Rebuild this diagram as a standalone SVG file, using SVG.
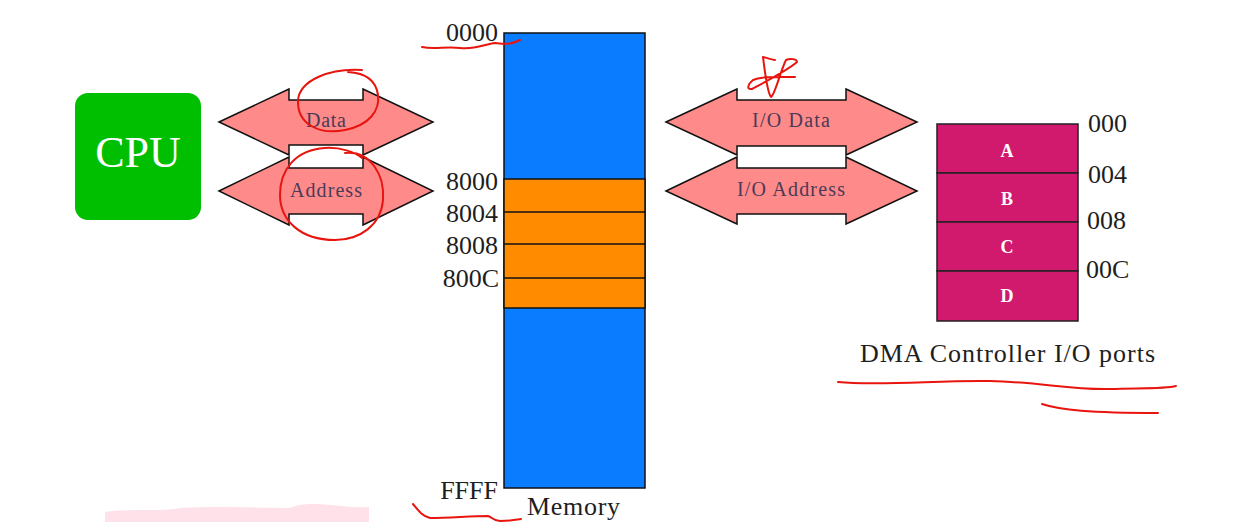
<svg xmlns="http://www.w3.org/2000/svg" width="1249" height="522" viewBox="0 0 1249 522">
<style>
.t{font-family:"Liberation Serif","DejaVu Serif",serif;fill:#1e1e1e}
.lbl{font-family:"Liberation Serif","DejaVu Serif",serif;fill:#4a3a58;font-size:20px;text-anchor:middle}
.bus{fill:#ff8a8a;stroke:#111;stroke-width:1.5;stroke-linejoin:miter}
.ink{fill:none;stroke:#e8150f;stroke-width:2;stroke-linecap:round;stroke-linejoin:round}
.port{fill:#d11a6e;stroke:#222;stroke-width:1.5}
.pl{font-family:"Liberation Serif","DejaVu Serif",serif;fill:#fff;font-size:18px;font-weight:bold;text-anchor:middle}
</style>
<rect width="1249" height="522" fill="#fff"/>
<path d="M105,512 C130,508 160,512 180,508 C220,506 260,508 290,508 C300,504 310,503 330,505 C345,506 355,508 369,507 L369,522 L105,522 Z" fill="#ffe1ea"/>

<g id="cpu">
<rect x="75" y="93" width="126" height="127" rx="13" fill="#00bf00"/>
<text class="t" x="138" y="167" font-size="44" text-anchor="middle" style="fill:#fff">CPU</text>
</g>

<g id="connectors">
<g id="data-bus">
<path class="bus" d="M219,122 L289,89 L289,100 L363,100 L363,89 L433,122 L363,155 L363,145 L289,145 L289,155 Z"/>
<text class="lbl" x="326" y="127" textLength="40">Data</text>
</g>
<g id="address-bus">
<path class="bus" d="M219,191 L289,157 L289,168 L363,168 L363,157 L433,191 L363,225 L363,214 L289,214 L289,225 Z"/>
<text class="lbl" x="326" y="197" textLength="72">Address</text>
</g>
<g id="io-data-bus">
<path class="bus" d="M666,122 L737,89 L737,100 L846,100 L846,89 L917,122 L846,155 L846,146 L737,146 L737,155 Z"/>
<text class="lbl" x="791" y="127" textLength="78">I/O Data</text>
</g>
<g id="io-address-bus">
<path class="bus" d="M666,191 L737,157 L737,168 L846,168 L846,157 L917,191 L846,224 L846,214 L737,214 L737,224 Z"/>
<text class="lbl" x="791" y="196" textLength="108">I/O Address</text>
</g>
</g>

<g id="memory">
<rect x="504" y="33" width="141" height="455" fill="#0a7cff" stroke="#111" stroke-width="1.5"/>
<rect x="504" y="179" width="141" height="129" fill="#ff8c00" stroke="#111" stroke-width="1.5"/>
<line x1="504" y1="212" x2="645" y2="212" stroke="#111" stroke-width="1.5"/>
<line x1="504" y1="244" x2="645" y2="244" stroke="#111" stroke-width="1.5"/>
<line x1="504" y1="278" x2="645" y2="278" stroke="#111" stroke-width="1.5"/>
<g class="t" font-size="26" text-anchor="end">
<text x="498" y="41">0000</text>
<text x="498" y="190">8000</text>
<text x="498" y="222">8004</text>
<text x="498" y="254">8008</text>
<text x="499" y="287">800C</text>
<text x="498" y="499">FFFF</text>
</g>
<text class="t" x="527" y="515" font-size="26" textLength="93">Memory</text>
</g>

<g id="dma">
<rect class="port" x="937" y="124" width="141" height="49"/>
<rect class="port" x="937" y="173" width="141" height="49"/>
<rect class="port" x="937" y="222" width="141" height="49"/>
<rect class="port" x="937" y="271" width="141" height="50"/>
<text class="pl" x="1007" y="157">A</text>
<text class="pl" x="1007" y="205">B</text>
<text class="pl" x="1007" y="253">C</text>
<text class="pl" x="1007" y="302">D</text>
<g class="t" font-size="26">
<text x="1088" y="132">000</text>
<text x="1088" y="183">004</text>
<text x="1087" y="229">008</text>
<text x="1086" y="278">00C</text>
</g>
<text class="t" x="860" y="362" font-size="26" textLength="295">DMA Controller I/O ports</text>
</g>

<g id="annotations">
<path class="ink" d="M362,70 C330,68 300,80 298,100 C297,125 320,135 345,130 C370,125 380,110 378,95 C376,80 365,73 348,72"/>
<path class="ink" d="M345,153 C370,150 385,175 383,200 C381,225 360,240 335,240 C300,240 280,220 280,195 C280,170 295,150 325,148 C340,147 355,152 362,158"/>
<path class="ink" d="M763,57 C765,72 767,92 771,97 C775,95 780,72 786,60 C790,58 797,59 797,62 C788,70 765,82 752,89 C746,90 748,84 753,80 C762,76 776,77 795,77 M763,57 C768,58 772,60 775,60"/>
<path class="ink" d="M422,47 C435,50 445,46 460,48 C475,50 485,44 495,43 C505,44 510,45 520,40"/>
<path class="ink" d="M413,504 C418,510 422,516 430,518 C450,518 470,516 488,516 C492,517 493,521 500,521 C510,521 515,520 521,519"/>
<path class="ink" d="M838,382 C880,386 940,380 990,381 C1040,382 1070,390 1110,389 C1140,388 1165,389 1176,386"/>
<path class="ink" d="M1042,404 C1060,410 1090,413 1158,413"/>
</g>
</svg>
